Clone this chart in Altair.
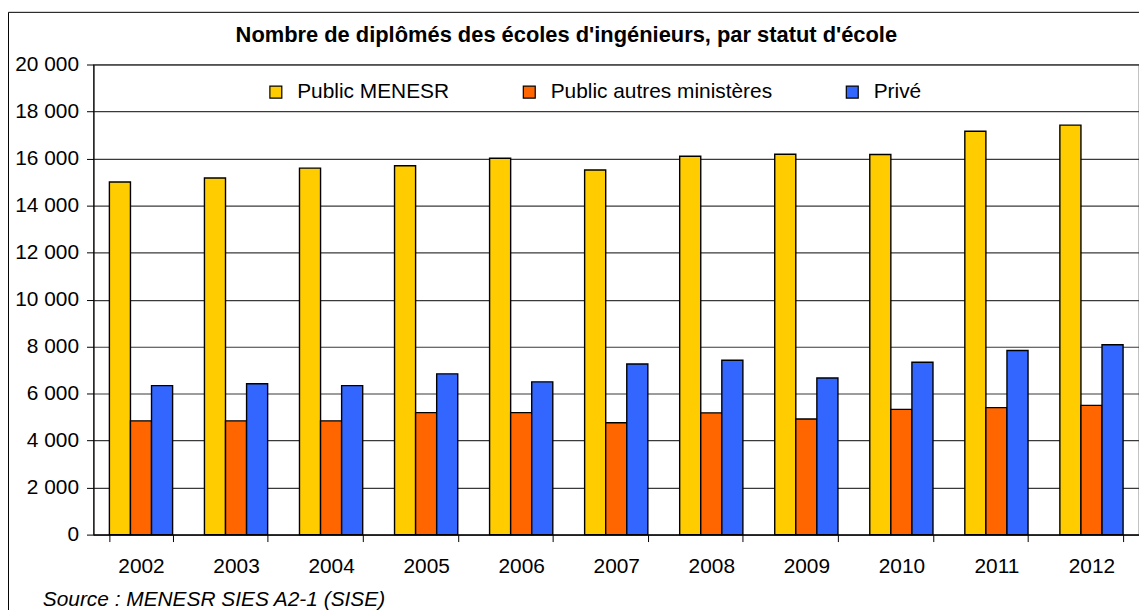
import altair as alt
import pandas as pd

years = ["2002", "2003", "2004", "2005", "2006", "2007", "2008", "2009", "2010", "2011", "2012"]
series = ["Public MENESR", "Public autres ministères", "Privé"]
public_menesr = [15000, 15170, 15590, 15690, 16010, 15510, 16100, 16180, 16170, 17160, 17420]
public_autres = [4840, 4840, 4840, 5190, 5190, 4760, 5180, 4920, 5330, 5400, 5500]
prive = [6340, 6420, 6340, 6840, 6500, 7260, 7420, 6660, 7330, 7830, 8080]
colors = ["#FFCC00", "#FF6600", "#3366FF"]
y_ticks = [0, 2000, 4000, 6000, 8000, 10000, 12000, 14000, 16000, 18000, 20000]
title_text = ["Nombre de diplômés des écoles d'ingénieurs, par statut d'école"]
source_text = ["Source : MENESR SIES A2-1 (SISE)"]

rows = []
for name, vals in zip(series, [public_menesr, public_autres, prive]):
    for yr, v in zip(years, vals):
        rows.append({"year": yr, "series": name, "value": v})
df = pd.DataFrame(rows)

FONT = "Liberation Sans"
W, H = 1052, 473

bars = alt.Chart(df).mark_bar(stroke="black", strokeWidth=1.4).encode(
    x=alt.X("year:N", sort=years,
            scale=alt.Scale(paddingInner=0.335, paddingOuter=0.1675),
            axis=alt.Axis(title=None, labelAngle=0, tickBand="extent", labelFontSize=21,
                          labelFont=FONT, labelColor="black", tickColor="black", tickSize=7,
                          domainColor="black", labelPadding=14, grid=False)),
    xOffset=alt.XOffset("series:N", sort=series, scale=alt.Scale(paddingInner=0, paddingOuter=0)),
    y=alt.Y("value:Q", scale=alt.Scale(domain=[0, 20000], nice=False),
            axis=alt.Axis(title=None, values=y_ticks,
                          labelExpr="replace(format(datum.value, ','), ',', ' ')",
                          labelFontSize=21, labelFont=FONT, labelColor="black",
                          tickColor="black", tickSize=7, domainColor="black", labelPadding=8,
                          grid=True, gridColor="#3a3a3a", gridWidth=1.2)),
    color=alt.Color("series:N", sort=series,
                    scale=alt.Scale(domain=series, range=colors),
                    legend=alt.Legend(title=None, orient="none", legendX=173, legendY=17,
                                      direction="horizontal", symbolType="square",
                                      symbolSize=144, symbolStrokeColor="black",
                                      symbolStrokeWidth=1.2, symbolOpacity=1,
                                      labelFontSize=21, labelFont=FONT, labelColor="black",
                                      labelLimit=0, labelOffset=11, columnPadding=70)),
)

frame = alt.Chart(pd.DataFrame({"k": [0]})).mark_rect(
    fill=None, stroke="black", strokeWidth=1
).encode(
    x=alt.value(-85.5), x2=alt.value(W + 40), y=alt.value(-52.5), y2=alt.value(H + 200)
)

title = alt.Chart(pd.DataFrame({"t": title_text})).mark_text(
    align="left", baseline="alphabetic", fontSize=22, font=FONT, fontWeight="bold", color="black"
).encode(x=alt.value(143), y=alt.value(-23), text="t:N")

source = alt.Chart(pd.DataFrame({"t": source_text})).mark_text(
    align="left", baseline="alphabetic", fontSize=21, font=FONT, fontStyle="italic", color="black"
).encode(x=alt.value(-51), y=alt.value(545), text="t:N")

chart = alt.layer(bars, frame, title, source).properties(
    width=W, height=H,
    autosize=alt.AutoSizeParams(type="none"),
    padding={"left": 86, "top": 55, "right": 0, "bottom": 74},
).configure_view(stroke="#3a3a3a", strokeWidth=1.2)

chart.save("out.html", embed_options={"renderer": "svg", "actions": False})
